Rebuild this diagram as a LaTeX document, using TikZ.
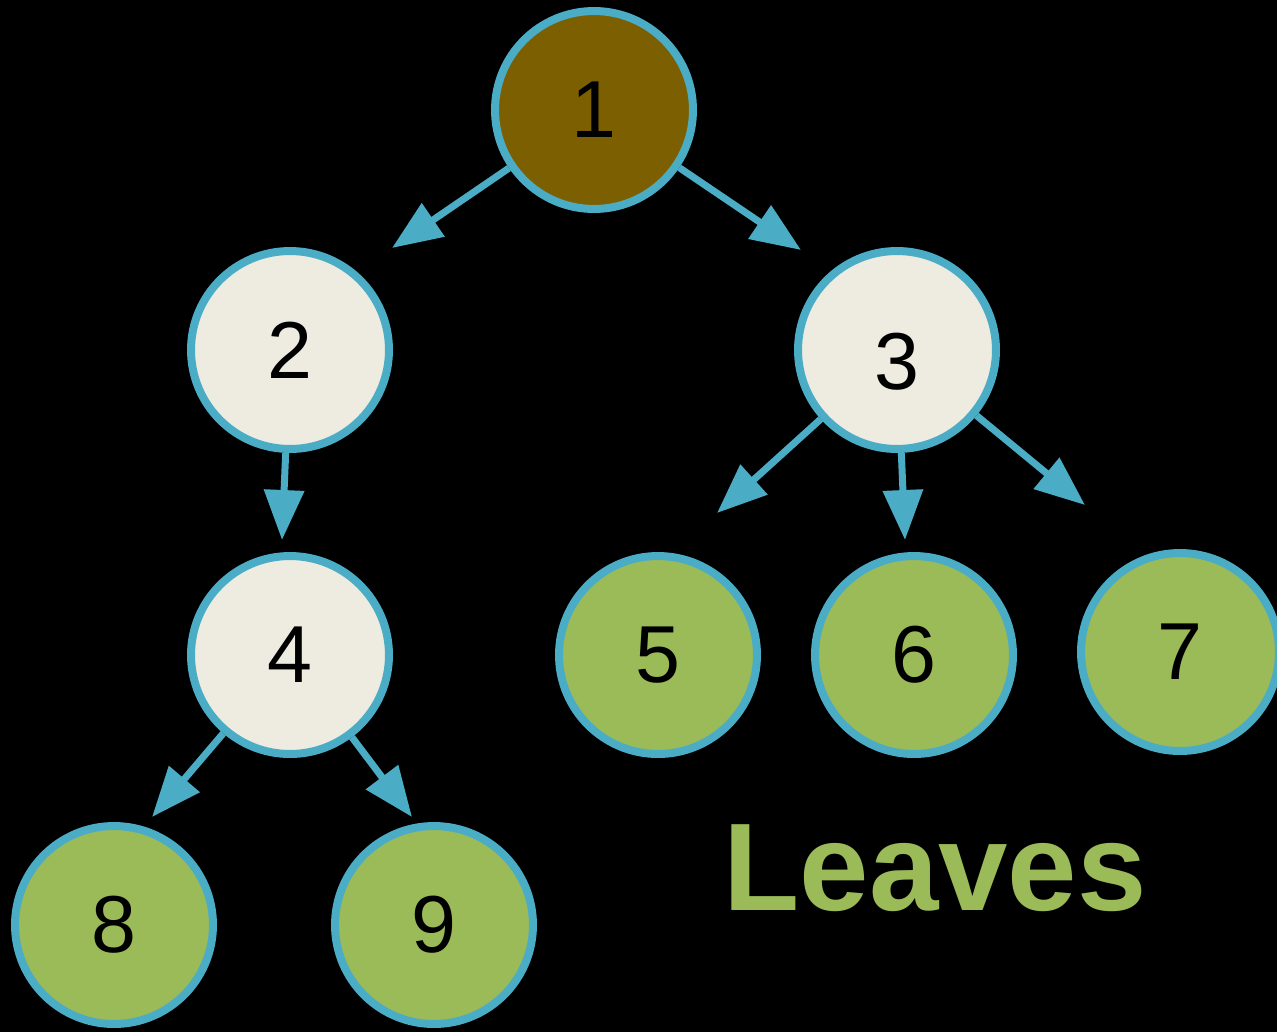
\documentclass[tikz,border=0pt]{standalone}
\usepackage{fontspec}
\setmainfont{Liberation Sans}
\usetikzlibrary{arrows.meta}

\definecolor{rootbrown}{HTML}{7B5F00}
\definecolor{innercream}{HTML}{EEECE1}
\definecolor{leafgreen}{HTML}{9BBB59}
\definecolor{edgeblue}{HTML}{4BACC6}

\tikzset{
	vertex/.style={circle, draw=edgeblue, line width=0.16cm, inner sep=0pt,
		minimum size=3.96cm, font=\fontsize{46}{52}\selectfont},
	root/.style={vertex, fill=rootbrown},
	inner/.style={vertex, fill=innercream},
	leaf/.style={vertex, fill=leafgreen},
	link/.style={draw=edgeblue, line width=0.14cm, -{Triangle[length=1cm,width=0.78cm]}}
}

\begin{document}
\begin{tikzpicture}[x=0.02cm, y=-0.02cm]
	\useasboundingbox (0,0) rectangle (1277,1032);
	\fill[black] (0,0) rectangle (1277,1032);
	\clip (0,0) rectangle (1277,1032);

	\node[root]  (n1) at (594,110) {1};
	\node[inner] (n2) at (290,350) {2};
	\node[inner] (n3) at (897,350) {\raisebox{-0.22cm}[\height][0pt]{3}};
	\node[inner] (n4) at (290,655) {4};
	\node[leaf]  (n5) at (658,655) {5};
	\node[leaf]  (n6) at (914,655) {6};
	\node[leaf]  (n7) at (1180,652) {7};
	\node[leaf]  (n8) at (114,925) {8};
	\node[leaf]  (n9) at (434,925) {9};

	% arrow tips stop short of the children
	\coordinate (t2) at (392,248);
	\coordinate (t3) at (801,250);
	\coordinate (t4) at (282,540);
	\coordinate (t5) at (717,513);
	\coordinate (t6) at (905,540);
	\coordinate (t7) at (1085,505);
	\coordinate (t8) at (152,817);
	\coordinate (t9) at (412,817);

	\draw[link] (n1) -- (t2);
	\draw[link] (n1) -- (t3);
	\draw[link] (n2) -- (t4);
	\draw[link] (n3) -- (t5);
	\draw[link] (n3) -- (t6);
	\draw[link] (n3) -- (t7);
	\draw[link] (n4) -- (t8);
	\draw[link] (n4) -- (t9);

	\node[text=leafgreen, font=\fontsize{71}{80}\selectfont\bfseries] (leaves) at (935,868) {Leaves};
\end{tikzpicture}
\end{document}
